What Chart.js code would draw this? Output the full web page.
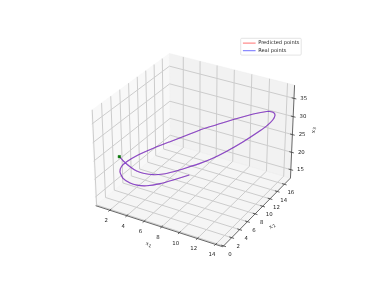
<!DOCTYPE html>
<html><head><meta charset="utf-8">
<style>html,body{margin:0;padding:0;background:#fff}canvas{display:block}</style>
<script src="https://cdn.jsdelivr.net/npm/chart.js@4"></script></head>
<body><canvas id="c" width="374" height="299"></canvas>
<script>
const xTicks=[2,4,6,8,10,12,14];
const yTicks=[0,2,4,6,8,10,12,14,16];
const zTicks=[15,20,25,30,35];
const xLim=[0.32,14.78], yLim=[-0.2,17.75], zLim=[12.56,38.57];
const x1=[3.23,3.31,3.41,3.46,3.38,3.51,3.89,4.47,5.35,6.28,7.19,8.55,10.14,11.52,12.61,13.39,13.92,14.11,14.06,13.93,13.20,11.97,10.89,9.92,8.85,7.67,6.47,5.00,3.97,3.25,2.79,2.49,2.32,2.52,3.13,4.04,4.85,5.93];
const x2=[0.03,0.71,1.95,3.30,4.94,7.02,8.65,9.93,11.42,12.84,13.88,14.79,15.50,15.81,15.86,15.52,14.76,13.84,12.98,12.40,10.64,8.45,6.78,5.51,4.06,2.66,1.30,0.45,0.27,0.39,0.87,2.00,3.90,5.08,6.16,7.52,9.11,10.85];
const x3=[28.06,26.27,23.55,21.03,18.67,16.25,15.06,14.86,15.15,15.64,16.58,18.84,21.97,25.07,27.76,30.20,32.56,34.25,35.27,35.72,36.18,35.92,35.37,34.77,33.75,32.59,31.33,29.15,27.02,25.04,22.81,19.69,16.21,14.51,13.69,13.56,13.58,14.03];
const S=1.8294640721620434/Math.hypot(4,4,3), box=[4*S,4*S,3*S];
const el=30*Math.PI/180, az=-60*Math.PI/180;
const U=[-Math.sin(az),Math.cos(az),0],V=[-Math.sin(el)*Math.cos(az),-Math.sin(el)*Math.sin(az),Math.cos(el)],W=[Math.cos(el)*Math.cos(az),Math.cos(el)*Math.sin(az),Math.sin(el)];
const dot=(a,b)=>a[0]*b[0]+a[1]*b[1]+a[2]*b[2];
const lims=[xLim,yLim,zLim];
function project(x,y,z){const q=[x,y,z].map((d,i)=>(d-lims[i][0])/(lims[i][1]-lims[i][0])*box[i]-box[i]/2);const den=10-dot(q,W);return {x:dot(q,U)/den,y:dot(q,V)/den};}
const sx=1274,sy=1267,cx=194.8,cy=145.6;
const curve=()=>x1.map((v,i)=>project(v,x2[i],x3[i]));
const line=(pts)=>pts.map(p=>project(p[0],p[1],p[2]));
const [a0,a1]=xLim,[b0,b1]=yLim,[c0,c1]=zLim;
const ds=[];
ds.push({label:'Predicted points',data:curve(),borderColor:'rgba(255,0,0,0.4)',backgroundColor:'rgba(255,0,0,0.45)',borderWidth:1.15,tension:0.2,order:2});
ds.push({label:'Real points',data:curve(),borderColor:'rgba(40,20,255,0.55)',backgroundColor:'rgba(0,0,255,0.45)',borderWidth:1.15,tension:0.2,order:1});
ds.push({label:'start',data:[project(x1[0],x2[0],x3[0])],pointRadius:1.7,pointStyle:'rect',pointBackgroundColor:'#008000',pointBorderColor:'#006000',pointBorderWidth:0.5,showLine:false,order:0});
const pane=(pts,col)=>ds.push({data:line(pts.concat([pts[0]])),borderColor:col,backgroundColor:col,borderWidth:0.5,fill:'shape',order:9});
pane([[a0,b0,c0],[a0,b1,c0],[a0,b1,c1],[a0,b0,c1]],'rgba(242,242,242,0.5)');
pane([[a0,b1,c0],[a1,b1,c0],[a1,b1,c1],[a0,b1,c1]],'rgba(230,230,230,0.5)');
pane([[a0,b0,c0],[a1,b0,c0],[a1,b1,c0],[a0,b1,c0]],'rgba(236,236,236,0.5)');
const grid=(pts)=>ds.push({data:line(pts),borderColor:'#cccccc',borderWidth:1,order:8});
xTicks.forEach(t=>grid([[t,b0,c0],[t,b1,c0],[t,b1,c1]]));
yTicks.forEach(t=>grid([[a1,t,c0],[a0,t,c0],[a0,t,c1]]));
zTicks.forEach(t=>grid([[a0,b0,t],[a0,b1,t],[a1,b1,t]]));
const ax=(pts,w,c)=>ds.push({data:line(pts),borderColor:c||'#444',borderWidth:w||0.8,order:3});
ax([[a0,b0,c0],[a1,b0,c0]]);ax([[a1,b0,c0],[a1,b1,c0]]);ax([[a1,b1,c0],[a1,b1,c1]]);
const dy=(b1-b0)*0.018,dx=(a1-a0)*0.018;
xTicks.forEach(t=>ax([[t,b0-dy,c0],[t,b0+dy,c0]],0.7,'#222'));
yTicks.forEach(t=>ax([[a1-dx,t,c0],[a1+dx,t,c0]],0.7,'#222'));
zTicks.forEach(t=>ax([[a1-dx,b1,t],[a1+dx,b1,t]],0.7,'#222'));

const labels={id:'labels',afterDraw(ch){const c=ch.ctx,X=ch.scales.x,Y=ch.scales.y;const P=(p)=>[X.getPixelForValue(p.x),Y.getPixelForValue(p.y)];
 c.save();c.fillStyle='#222';c.textAlign='center';c.textBaseline='middle';c.font='5.4px "DejaVu Sans"';
 xTicks.forEach(t=>{const [a,b]=P(project(t,b0,c0));c.fillText(String(t),a-3.5,b+10.5);});
 yTicks.forEach(t=>{const [a,b]=P(project(a1,t,c0));c.fillText(String(t),a+6.5,b+8.7);});
 zTicks.forEach(t=>{const [a,b]=P(project(a1,b1,t));c.fillText(String(t),a+9.7,b);});
 const lab=(x,y,rot,s)=>{c.save();c.translate(x,y);c.rotate(rot);c.font='italic 5.8px "DejaVu Serif"';c.textAlign='right';c.fillText('x',0,0);c.font='4.2px "DejaVu Sans"';c.textAlign='left';c.fillText(s,0.2,1.5);c.restore();};
 lab(148.7,244.3,17*Math.PI/180,'1');lab(272,226,-43*Math.PI/180,'2');lab(313.3,130,-Math.PI/2,'3');
 c.restore();}};
const frame={id:'frame',beforeDraw(ch){const c=ch.ctx;c.save();c.strokeStyle='#d8d8d8';c.lineWidth=0.7;c.beginPath();c.roundRect(240.7,38.3,60.5,16.8,1);c.stroke();c.restore();},
 afterLayout(ch){const l=ch.legend;l.left=240.5;l.top=38.2;l.right=320;l.bottom=70;l.width=79.5;l.height=31.8;}};
new Chart(document.getElementById('c'),{type:'scatter',data:{datasets:ds},plugins:[frame,labels],options:{responsive:false,animation:false,
 layout:{padding:0,autoPadding:false},elements:{point:{radius:0},line:{fill:false}},datasets:{scatter:{showLine:true,pointRadius:0,clip:false}},
 scales:{x:{type:'linear',display:false,min:-cx/sx,max:(374-cx)/sx},y:{type:'linear',display:false,min:-(299-cy)/sy,max:cy/sy}},
 plugins:{tooltip:{enabled:false},legend:{position:'chartArea',align:'start',labels:{font:{family:'DejaVu Sans',size:5.1},color:'#222',boxWidth:12.7,boxHeight:1.2,padding:2.4,
  filter:i=>i.datasetIndex<2,sort:(a,b)=>a.datasetIndex-b.datasetIndex,generateLabels(ch){return Chart.defaults.plugins.legend.labels.generateLabels(ch).map(i=>Object.assign(i,{lineWidth:0}));}}}}}});
</script></body></html>
